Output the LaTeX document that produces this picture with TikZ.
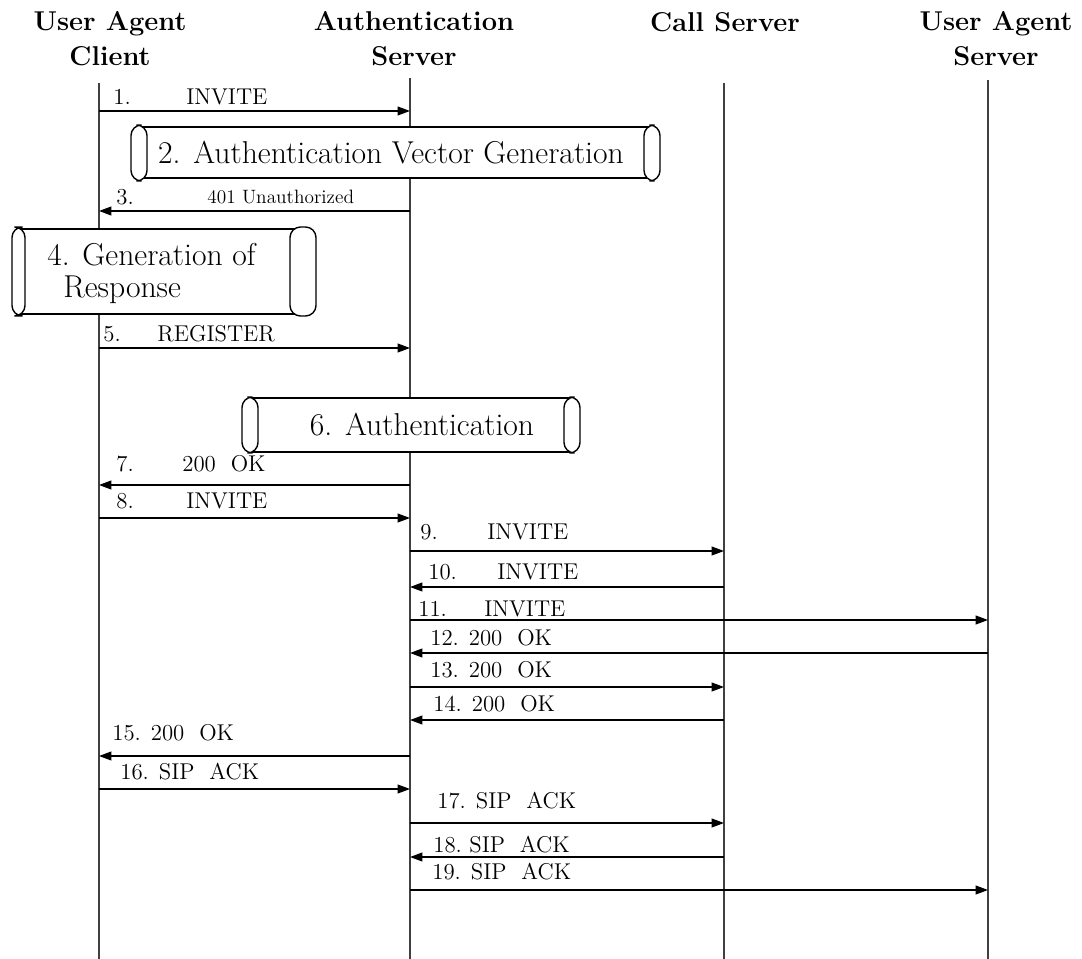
\documentclass[tikz,border=0pt]{standalone}
\usepackage{fontspec}
\usetikzlibrary{arrows.meta}

\begin{document}
\begin{tikzpicture}[x=0.02cm, y=-0.02cm, >={Triangle[length=7pt,width=5pt]},
  head/.style={font=\fontsize{15.5}{20}\selectfont\bfseries, align=center},
  life/.style={line width=1.1pt, black!75},
  msg/.style={->, line width=0.8pt},
  lbl/.style={anchor=west, inner sep=0pt, font=\fontsize{13}{15}\selectfont},
  proc/.style={inner sep=0pt, font=\fontsize{18}{21}\selectfont},
  endcap/.style={draw, fill=white, line width=0.8pt, rounded corners=6pt}]
  \useasboundingbox (0,0) rectangle (1082,959);

  % Entites
  \node[head] (uacname) at (110,39) {User Agent\\Client};
  \node[head] (authname) at (414,39) {Authentication\\Server};
  \node[head] (callname) at (725,22) {Call Server};
  \node[head] (uasname) at (996,39) {User Agent\\Server};

  % Lignes de vie
  \coordinate (uac) at (99,83);   \coordinate (uacend) at (99,959);
  \coordinate (auth) at (410,78); \coordinate (authend) at (410,959);
  \coordinate (call) at (724,83); \coordinate (callend) at (724,959);
  \coordinate (uas) at (988,80);  \coordinate (uasend) at (988,959);
  \draw[life] (uac) -- (uacend);
  \draw[life] (auth) -- (authend);
  \draw[life] (call) -- (callend);
  \draw[life] (uas) -- (uasend);

  % 2. Authentication Vector Generation
  \fill[white] (139,127) rectangle (652,178);
  \draw[line width=0.8pt] (139,127) -- (652,127) (139,178) -- (652,178);
  \draw[endcap] (131,125) rectangle (147,181);
  \draw[endcap] (644,125) rectangle (660,181);
  \node[proc] (avg) at (391,153) {2. Authentication Vector Generation};

  % 4. Generation of Response
  \fill[white] (18,229) rectangle (303,314);
  \draw[line width=0.8pt] (18,229) -- (303,229) (18,314) -- (303,314);
  \draw[endcap] (12,227) rectangle (25,316);
  \draw[endcap] (290,227) rectangle (316,316);
  \node[proc, anchor=west] (gen) at (47,255) {4. Generation of};
  \node[proc, anchor=west] (resp) at (63,290) {Response};

  % 6. Authentication
  \fill[white] (250,398) rectangle (572,452);
  \draw[line width=0.8pt] (250,398) -- (572,398) (250,452) -- (572,452);
  \draw[endcap] (242,397) rectangle (258,453);
  \draw[endcap] (564,397) rectangle (580,453);
  \node[proc] (authproc) at (422,425) {6. Authentication};

  % Messages
  \foreach \y/\s/\t in {111/uac/auth, 211/auth/uac, 348/uac/auth, 485/auth/uac,
      518/uac/auth, 551/auth/call, 587/call/auth, 620/auth/uas, 653/uas/auth,
      687/auth/call, 720/call/auth, 756/auth/uac, 789/uac/auth, 823/auth/call,
      857/call/auth, 890/auth/uas}
    \draw[msg] (\s |- 0,\y) -- (\t |- 0,\y);

  % Libelles
  \foreach \x/\y/\txt [count=\i] in {113/97/1., 186/97/INVITE,
      116/197/3., 207/197/{\fontsize{11}{13}\selectfont 401 Unauthorized},
      103/334/5., 157/334/REGISTER,
      116/464/7., 182/464/200\ \ OK,
      116/501/8., 186/501/INVITE,
      420/532/9., 487/532/INVITE,
      428/572/10., 497/572/INVITE,
      418/609/11., 484/609/INVITE,
      430/638/12. 200\ \ OK, 430/670/13. 200\ \ OK, 433/704/14. 200\ \ OK,
      112/733/15. 200\ \ OK, 120/772/16. SIP\ \ ACK,
      437/801/17. SIP\ \ ACK, 433/845/18.\ SIP\ \ ACK, 432/872/19. SIP\ \ ACK}
    \node[lbl] (lbl\i) at (\x,\y) {\txt};
\end{tikzpicture}
\end{document}
